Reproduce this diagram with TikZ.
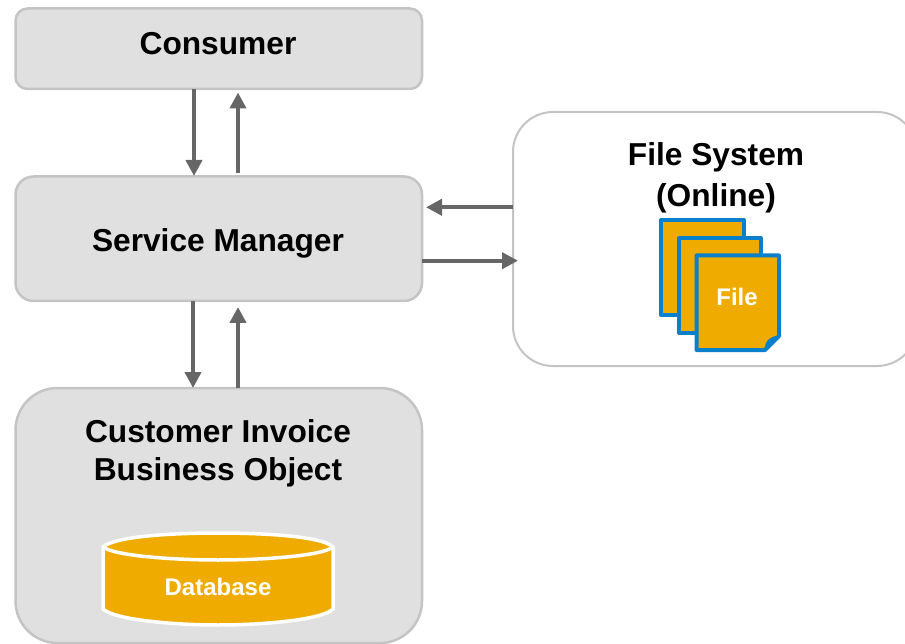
\documentclass[tikz,border=0pt]{standalone}
\usepackage{fontspec}
\setmainfont{Liberation Sans}
\usetikzlibrary{arrows.meta}
\definecolor{boxfill}{HTML}{E0E0E0}
\definecolor{boxline}{HTML}{C4C4C4}
\definecolor{arrowgrey}{HTML}{666666}
\definecolor{gold}{HTML}{F0AB00}
\definecolor{fileblue}{HTML}{0A7FCC}
\tikzset{
  x=1pt,y=-1pt,
  greybox/.style={draw=boxline,fill=boxfill,line width=2.5pt,minimum width=406.5pt,anchor=north west,inner sep=0pt,outer sep=0pt},
  title/.style={font=\bfseries\fontsize{31.7}{38}\selectfont,align=center,text=black,inner sep=0pt,anchor=base},
  flow/.style={draw=arrowgrey,line width=4pt,-{Triangle[length=16pt,width=16pt]}},
  sheet/.style={draw=fileblue,fill=gold,line width=4pt,line join=round},
  small/.style={font=\bfseries\fontsize{24}{28}\selectfont,text=white,inner sep=0pt,anchor=base}
}
\begin{document}
\begin{tikzpicture}
\useasboundingbox[clip] (0,0) rectangle (905,644);
\node[greybox,minimum height=80.5pt,rounded corners=12pt] (consumer) at (15.5,8.5) {};
\node[title] (consumerlabel) at (218,55) {Consumer};
\node[greybox,minimum height=124.5pt,rounded corners=18pt] (manager) at (15.5,176.5) {};
\node[title] (managerlabel) at (218,252) {Service Manager};
\node[greybox,minimum height=255pt,rounded corners=42pt] (object) at (15.5,388) {};
\node[title] (line1) at (218,442) {Customer Invoice};
\node[title] (line2) at (218,480) {Business Object};
\node[draw=boxline,fill=white,line width=2pt,minimum width=404pt,minimum height=254pt,rounded corners=40pt,anchor=north west,inner sep=0pt,outer sep=0pt] (files) at (513,112) {};
\node[title] (line3) at (716,166) {File System};
\node[title] (line4) at (716,207) {(Online)};
% connectors
\coordinate (c1) at (194,89); \coordinate (m1) at (194,176);
\coordinate (m2) at (238,173); \coordinate (c2) at (238,92.5);
\coordinate (m3) at (193,301); \coordinate (o1) at (193,388);
\coordinate (o2) at (238,388); \coordinate (m4) at (238,307);
\coordinate (f1) at (513,207.3); \coordinate (m5) at (426,207.3);
\coordinate (m6) at (422,260.7); \coordinate (f2) at (518,260.7);
\draw[flow] (c1) -- (m1);
\draw[flow] (m2) -- (c2);
\draw[flow] (m3) -- (o1);
\draw[flow] (o2) -- (m4);
\draw[flow] (f1) -- (m5);
\draw[flow] (m6) -- (f2);
% files
\draw[sheet] (661.3,220) rectangle (744,315);
\draw[sheet] (679,238) rectangle (760.5,333);
\draw[sheet] (696.5,255.5) -- (779,255.5) -- (779,336) -- (765,350) -- (696.5,350) -- cycle;
\draw[draw=fileblue,fill=gold,line width=3pt,line join=round] (766,349) .. controls (767,342) and (769,339) .. (778,337) -- cycle;
\node[small] (filelabel) at (737,306) {File};
% database
\draw[draw=white,fill=gold,line width=3.5pt] (103,547) -- (103,609) .. controls (115,620) and (175,625) .. (218,625) .. controls (262,625) and (322,620) .. (333,609) -- (333,547) .. controls (322,536) and (262,533) .. (218,533) .. controls (175,533) and (115,536) .. (103,547) -- cycle;
\draw[draw=white,line width=3.5pt] (103,547) .. controls (115,556) and (175,560) .. (218,560) .. controls (262,560) and (322,556) .. (333,547);
\node[small] (dblabel) at (218,595) {Database};
\end{tikzpicture}
\end{document}
